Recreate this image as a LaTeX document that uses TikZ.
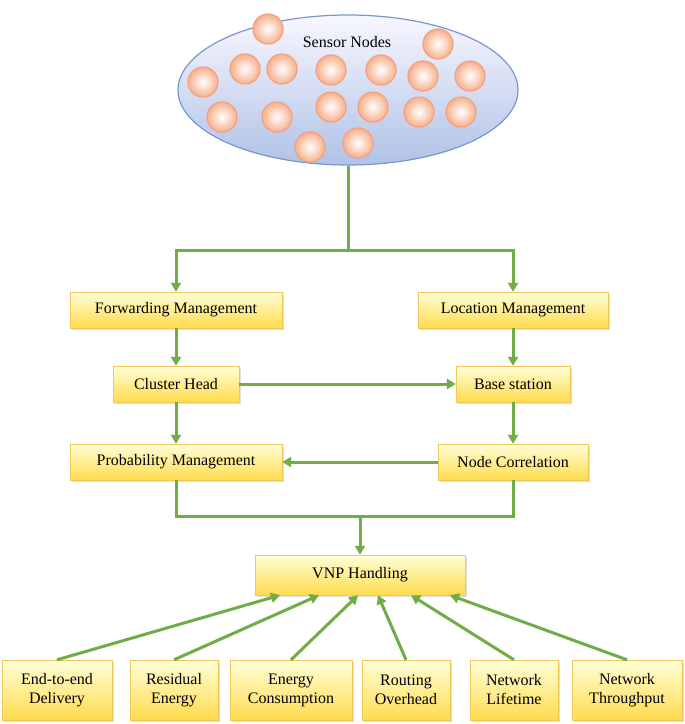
\documentclass[tikz,border=0pt]{standalone}
\usepackage{fontspec}
\setmainfont{Liberation Serif}
\usepackage{tikz}
\usetikzlibrary{
	positioning,
	arrows.meta,
	shapes.geometric,
	shadows
}
\definecolor{linegreen}{RGB}{112,173,71}
\definecolor{boxedge}{RGB}{240,200,90}
\definecolor{fieldedge}{RGB}{120,150,210}
\definecolor{fieldlow}{RGB}{176,194,230}
\definecolor{peach}{RGB}{246,176,140}
\tikzset{
	box/.style={
		rectangle, draw=boxedge, top color=yellow!15, bottom color=yellow!60!orange!70,
		minimum height=36, inner sep=2, align=center, font=\fontsize{16}{19}\selectfont,
		drop shadow={shadow xshift=2pt,shadow yshift=-2pt,fill=black!25}
	},
	tallbox/.style={box, minimum height=60},
	sensor/.style={
		circle, draw=peach!90!red, line width=1.2, minimum size=30,
		inner color=white, outer color=peach
	},
	link/.style={draw=linegreen, line width=3, -{Triangle[length=9pt,width=10pt]}},
	wire/.style={draw=linegreen, line width=3}
}

\begin{document}
\begin{tikzpicture}[x=1pt,y=-1pt]
	\useasboundingbox (0,0) rectangle (685,724);
	% sensor field
	\node[ellipse, draw=fieldedge, line width=1.2, minimum width=340, minimum height=150,
		top color=blue!3, bottom color=fieldlow] (field) at (348,90) {};
	\node[font=\fontsize{16}{19}\selectfont] (title) at (347,42) {Sensor Nodes};
	\foreach \x/\y [count=\i] in {268/29, 438/44, 203/82, 245/69, 282/69, 331/70, 381/70,
		423/76, 470/76, 222/117, 277/117, 331/107, 373/107, 419/112, 461/112, 310/147, 358/143}
		\node[sensor] (s\i) at (\x,\y) {};

	% management layer
	\node[box, minimum width=212] (fwd)  at (176,310) {Forwarding Management};
	\node[box, minimum width=190] (loc)  at (513,310) {Location Management};
	\node[box, minimum width=126] (ch)   at (176,384) {Cluster Head};
	\node[box, minimum width=114] (bs)   at (513,384) {Base station};
	\node[box, minimum width=212] (prob) at (176,462) {Probability Management};
	\node[box, minimum width=150] (nc)   at (513,462) {Node Correlation};
	\node[box, minimum width=210, minimum height=40] (vnp) at (360,575) {VNP Handling};

	% metrics
	\node[tallbox, minimum width=110] (e2e)  at (57,690)  {End-to-end\\Delivery};
	\node[tallbox, minimum width=88]  (res)  at (174,690) {Residual\\Energy};
	\node[tallbox, minimum width=122] (ec)   at (291,690) {Energy\\Consumption};
	\node[tallbox, minimum width=88]  (ro)   at (406,690) {Routing\\Overhead};
	\node[tallbox, minimum width=88]  (nl)   at (514,690) {Network\\Lifetime};
	\node[tallbox, minimum width=110] (nt)   at (627,690) {Network\\Throughput};

	\coordinate (split) at (348,250);
	\coordinate (join)  at (360,516);

	\draw[wire] (field.south) -- (split);
	\draw[link] (split) -| (fwd.north);
	\draw[link] (split) -| (loc.north);
	\draw[link] (fwd) -- (ch);
	\draw[link] (loc) -- (bs);
	\draw[link] (ch) -- (bs);
	\draw[link] (ch) -- (prob);
	\draw[link] (bs) -- (nc);
	\draw[link] (nc) -- (prob);
	\draw[wire] (prob.south) |- (join) -| (nc.south);
	\draw[link] (join) -- (vnp);

	\draw[link] (e2e.north) -- (vnp.south -| 280,0);
	\draw[link] (res.north) -- (vnp.south -| 319,0);
	\draw[link] (ec.north)  -- (vnp.south -| 358,0);
	\draw[link] (ro.north)  -- (vnp.south -| 378,0);
	\draw[link] (nl.north)  -- (vnp.south -| 411,0);
	\draw[link] (nt.north)  -- (vnp.south -| 450,0);
\end{tikzpicture}
\end{document}
